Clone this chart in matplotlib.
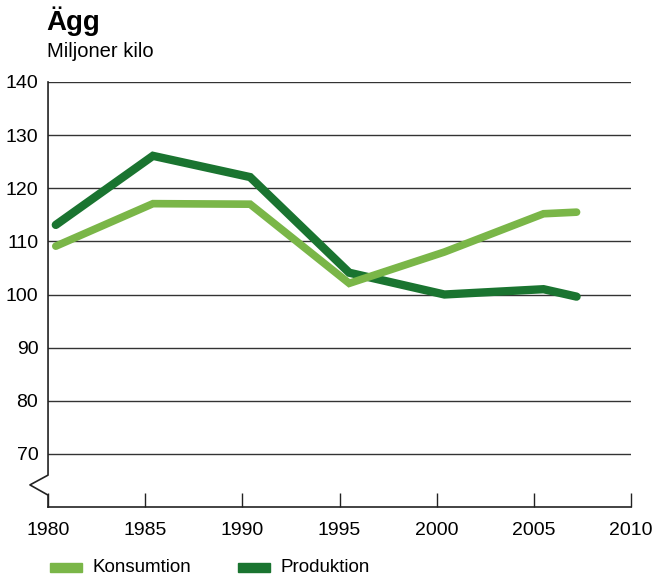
import matplotlib.pyplot as plt
from matplotlib.patches import Rectangle

plt.rcParams['font.family'] = ['Liberation Sans', 'DejaVu Sans']

# --- data ---
years = [1980.4, 1985.4, 1990.4, 1995.5, 2000.4, 2005.5, 2007.2]
konsumtion = [109.1, 117.1, 117.0, 102.1, 108.0, 115.2, 115.5]
produktion = [113.1, 126.1, 122.1, 104.1, 100.0, 101.0, 99.6]
x_ticks = [1980, 1985, 1990, 1995, 2000, 2005, 2010]
y_ticks = [70, 80, 90, 100, 110, 120, 130, 140]

LIGHT = '#7ab648'
DARK = '#1a7430'

fig = plt.figure(figsize=(6.57, 5.77), dpi=100)
ax = fig.add_axes([0.0731, 0.1213, 0.8873, 0.7366])

ax.set_xlim(1980, 2010)
ax.set_ylim(60, 140)

# gridlines
for v in y_ticks:
    ax.axhline(v, color='#333333', linewidth=1.0, zorder=1)

ax.plot(years, konsumtion, color=LIGHT, linewidth=5.5, solid_capstyle='round',
        solid_joinstyle='miter', zorder=3)
ax.plot(years, produktion, color=DARK, linewidth=6, solid_capstyle='round',
        solid_joinstyle='miter', zorder=2)

for s in ['top', 'right', 'left']:
    ax.spines[s].set_visible(False)
ax.spines['bottom'].set_linewidth(1.2)
ax.spines['bottom'].set_color('#222222')

# left spine with break (zigzag)
ax.plot([0, 0, -0.031, 0, 0], [1, 0.075, 0.052, 0.028, 0],
        transform=ax.transAxes, color='#222222', linewidth=1.2,
        clip_on=False, zorder=4)

ax.set_xticks(x_ticks)
ax.set_yticks(y_ticks)
ax.tick_params(axis='x', direction='in', length=10, width=1, color='#222222',
               labelsize=14, pad=11)
ax.tick_params(axis='y', length=0, labelsize=14, pad=7)

# title
fig.text(0.071, 0.948, 'Ägg', fontsize=20, fontweight='bold', ha='left',
         va='baseline', color='black')
fig.text(0.071, 0.902, 'Miljoner kilo', fontsize=14.5, ha='left',
         va='baseline', color='black')

# legend
legend_items = [('Konsumtion', LIGHT, 50), ('Produktion', DARK, 238)]
for label, col, px in legend_items:
    fig.patches.append(Rectangle((px / 657, 1 - 572 / 577), 32 / 657, 9 / 577,
                                 transform=fig.transFigure, color=col))
    fig.text((px + 42) / 657, 1 - 567 / 577, label, fontsize=13.5,
             ha='left', va='center')

fig.savefig('out.png', dpi=100)
